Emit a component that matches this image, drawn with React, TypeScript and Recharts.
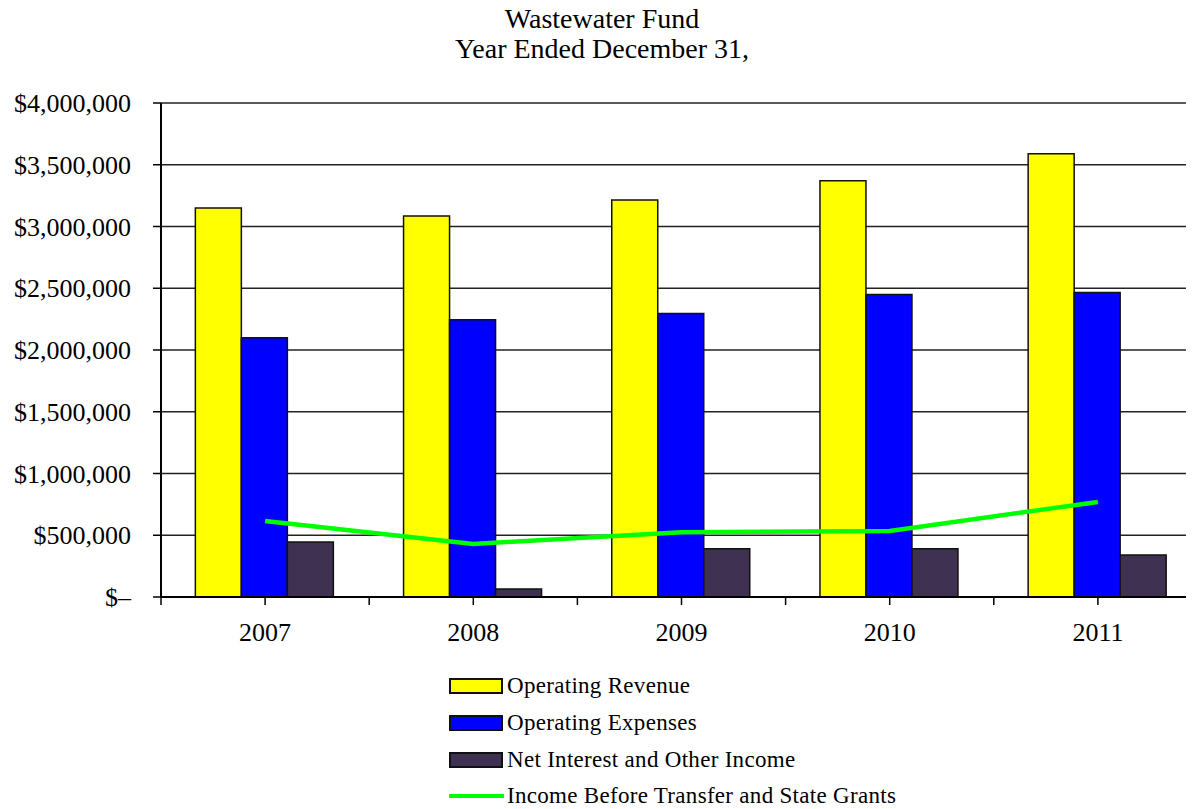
import React from "react";
import { ComposedChart, Bar, Line, XAxis, YAxis, CartesianGrid } from "recharts";

const YEARS = ["2007", "2008", "2009", "2010", "2011"];
const OPERATING_REVENUE = [3150000, 3085000, 3215000, 3370000, 3590000];
const OPERATING_EXPENSES = [2100000, 2245000, 2295000, 2450000, 2465000];
const NET_INTEREST = [445000, 65000, 390000, 390000, 340000];
const INCOME_BEFORE = [615000, 430000, 525000, 535000, 770000];
const Y_TICKS = [0, 500000, 1000000, 1500000, 2000000, 2500000, 3000000, 3500000, 4000000];

const data = YEARS.map((year, i) => ({
  year,
  revenue: OPERATING_REVENUE[i],
  expenses: OPERATING_EXPENSES[i],
  interest: NET_INTEREST[i],
  income: INCOME_BEFORE[i],
}));

const FONT = "Liberation Serif, Tinos, Times New Roman, serif";
const C = {
  revenue: "#ffff00",
  expenses: "#0000ff",
  interest: "#3f3151",
  income: "#00ff00",
};

// the plot runs past the right edge of the picture, as in the source
const CHART_W = 1210;
const Y_W = 161;
const M = { top: 103, right: 8, bottom: 0, left: 0 };
const BAND = (CHART_W - M.right - Y_W) / YEARS.length;

const legendItems = [
  { label: "Operating Revenue", color: C.revenue, type: "bar" },
  { label: "Operating Expenses", color: C.expenses, type: "bar" },
  { label: "Net Interest and Other Income", color: C.interest, type: "bar" },
  { label: "Income Before Transfer and State Grants", color: C.income, type: "line" },
];

const fmtY = (v: number) => (v === 0 ? "$–" : "$" + v.toLocaleString("en-US"));

// category label plus ticks at the centre and at band edges
// eslint-disable-next-line @typescript-eslint/no-explicit-any
const YearTick = ({ x, y, payload }: any) => {
  const left = x - BAND / 2;
  return (
    <g>
      <line x1={x} x2={x} y1={y} y2={y + 8} stroke="#000" strokeWidth={1.5} />
      <line x1={left} x2={left} y1={y} y2={y + 8} stroke="#000" strokeWidth={1.5} />
      <text x={x} y={y + 44} textAnchor="middle" fill="#000" fontSize={26} fontFamily={FONT}>
        {payload.value}
      </text>
    </g>
  );
};

export default function App() {
  return (
    <div style={{ position: "absolute", left: 0, top: 0, width: 1196, height: 809, background: "#fff", fontFamily: FONT, overflow: "hidden" }}>
      <div style={{ position: "absolute", top: 4, left: 0, width: 1196, textAlign: "center", fontSize: 28, lineHeight: "30px", color: "#000" }}>
        <div style={{ paddingLeft: 8 }}>Wastewater Fund</div>
        <div style={{ paddingLeft: 8 }}>Year Ended December 31,</div>
      </div>
      <div style={{ position: "absolute", left: 0, top: 0, width: 1186, height: 660, overflow: "hidden" }}>
        <ComposedChart
          width={CHART_W}
          height={660}
          data={data}
          margin={M}
          barGap={0}
          barCategoryGap="16.5%"
        >
          <CartesianGrid horizontal vertical={false} stroke="#222" strokeWidth={1.5} />
          <XAxis
            dataKey="year"
            interval={0}
            height={63}
            tickSize={0}
            tickMargin={0}
            axisLine={{ stroke: "#000", strokeWidth: 2 }}
            tickLine={false}
            tick={<YearTick />}
          />
          <YAxis
            domain={[0, 4000000]}
            ticks={Y_TICKS}
            interval={0}
            width={Y_W}
            tickSize={8}
            tickMargin={22}
            tickFormatter={fmtY}
            axisLine={{ stroke: "#000", strokeWidth: 2 }}
            tickLine={{ stroke: "#000", strokeWidth: 1.5 }}
            tick={{ fill: "#000", fontSize: 26, fontFamily: FONT }}
          />
          <Bar dataKey="revenue" fill={C.revenue} stroke="#111" strokeWidth={1.5} isAnimationActive={false} />
          <Bar dataKey="expenses" fill={C.expenses} stroke="#111" strokeWidth={1.5} isAnimationActive={false} />
          <Bar dataKey="interest" fill={C.interest} stroke="#111" strokeWidth={1.5} isAnimationActive={false} />
          <Line
            dataKey="income"
            type="linear"
            stroke={C.income}
            strokeWidth={4.5}
            dot={false}
            isAnimationActive={false}
          />
        </ComposedChart>
      </div>
      <div style={{ position: "absolute", left: 449, top: 668 }}>
        {legendItems.map((it) => (
          <div key={it.label} style={{ display: "flex", alignItems: "center", height: 36.7, fontSize: 23, letterSpacing: 0.3, color: "#000" }}>
            {it.type === "bar" ? (
              <span style={{ display: "inline-block", width: 50, height: 12, background: it.color, border: "2px solid #111", marginRight: 4 }} />
            ) : (
              <span style={{ display: "inline-block", width: 55, height: 4, background: it.color, marginRight: 3 }} />
            )}
            <span>{it.label}</span>
          </div>
        ))}
      </div>
    </div>
  );
}
